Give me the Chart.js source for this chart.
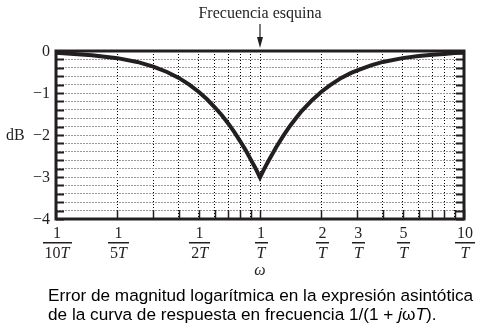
<!DOCTYPE html>
<html>
<head>
<meta charset="utf-8">
<script src="https://cdn.jsdelivr.net/npm/chart.js@4"></script>
<style>
  html, body { margin: 0; padding: 0; background: #fff; }
  #wrap { width: 486px; height: 330px; }
</style>
</head>
<body>
<div id="wrap"><canvas id="errChart" width="486" height="330"></canvas></div>
<script>
// omega * T and the error in dB
const omegaT = [0.1, 0.15, 0.2, 0.25, 0.3, 0.35, 0.4, 0.45, 0.5, 0.55, 0.6, 0.65, 0.7, 0.75, 0.8, 0.85, 0.9, 0.95, 1,
                1.05, 1.1, 1.2, 1.3, 1.4, 1.5, 1.6, 1.8, 2, 2.2, 2.5, 2.8, 3, 3.5, 4, 5, 6, 7, 8, 9, 10];
const errorDb = [-0.04, -0.10, -0.17, -0.26, -0.37, -0.50, -0.64, -0.80, -0.97, -1.15, -1.34, -1.53, -1.73, -1.94, -2.15, -2.36, -2.58, -2.79, -3.01,
                 -2.80, -2.62, -2.29, -2.02, -1.79, -1.60, -1.43, -1.17, -0.97, -0.82, -0.64, -0.52, -0.46, -0.34, -0.26, -0.17, -0.12, -0.09, -0.07, -0.05, -0.04];

// x axis labels (fractions) and grid
const xTickValues = [0.1, 0.2, 0.5, 1, 2, 3, 5, 10];
const xTickNum = ['1', '1', '1', '1', '2', '3', '5', '10'];
const xTickDen = ['10', '5', '2', '', '', '', '', ''];   // followed by an italic T
const xGrid = [0.1, 0.2, 0.3, 0.4, 0.5, 0.6, 0.7, 0.8, 0.9, 1, 2, 3, 4, 5, 6, 7, 8, 9, 10];
const yTickValues = [0, -1, -2, -3, -4];
const yGrid = [0, -0.2, -0.4, -0.6, -0.8, -1, -1.2, -1.4, -1.6, -1.8, -2, -2.2, -2.4, -2.6, -2.8, -3, -3.2, -3.4, -3.6, -3.8, -4];

const serif = '"Liberation Serif", "DejaVu Serif", serif';
const sans = '"Liberation Sans", Arial, sans-serif';
const ink = '#231f20';

const decorPlugin = {
    id: 'decor',
    afterDatasetsDraw(chart) {
        const ctx = chart.ctx;
        const a = chart.chartArea;
        const xs = chart.scales.x, ys = chart.scales.y;
        ctx.save();
        // inner tick marks
        ctx.strokeStyle = ink;
        ctx.lineWidth = 2;
        yGrid.forEach(v => {
            const py = Math.round(ys.getPixelForValue(v)) + 0.5;
            ctx.beginPath();
            ctx.moveTo(a.left, py); ctx.lineTo(a.left + 8, py);
            ctx.moveTo(a.right, py); ctx.lineTo(a.right - 8, py);
            ctx.stroke();
        });
        ctx.lineWidth = 1.5;
        xGrid.forEach(v => {
            const px = Math.round(xs.getPixelForValue(v)) + 0.5;
            ctx.beginPath();
            ctx.moveTo(px, a.bottom); ctx.lineTo(px, a.bottom - 9);
            ctx.stroke();
        });
        // frame
        ctx.lineWidth = 3;
        ctx.strokeRect(a.left, a.top, a.right - a.left, a.bottom - a.top);
        ctx.restore();
    },
    afterDraw(chart) {
        const ctx = chart.ctx;
        const xs = chart.scales.x, ys = chart.scales.y;
        const fs = '16px ';
        ctx.save();
        ctx.fillStyle = ink;
        ctx.strokeStyle = ink;

        // y tick labels
        ctx.font = fs + serif;
        ctx.textAlign = 'right';
        ctx.textBaseline = 'middle';
        yTickValues.forEach(v => {
            const txt = v === 0 ? '0' : '\u2212' + Math.abs(v);
            ctx.fillText(txt, 50, ys.getPixelForValue(v) + 1);
        });
        ctx.textAlign = 'left';
        ctx.fillText('dB', 6, ys.getPixelForValue(-2) + 1);

        // x fraction labels
        xTickValues.forEach((v, i) => {
            const cx = xs.getPixelForValue(v) + 1;
            ctx.font = fs + serif;
            const numW = ctx.measureText(xTickNum[i]).width;
            const digW = ctx.measureText(xTickDen[i]).width;
            ctx.font = 'italic ' + fs + serif;
            const tW = ctx.measureText('T').width;
            const denW = digW + tW;
            const barW = Math.max(numW, denW) + 4;
            ctx.font = fs + serif;
            ctx.textAlign = 'center';
            ctx.textBaseline = 'alphabetic';
            ctx.fillText(xTickNum[i], cx, 238);
            ctx.fillRect(Math.round(cx - barW / 2), 242, Math.round(barW), 1.5);
            ctx.textAlign = 'left';
            const x0 = cx - denW / 2;
            ctx.fillText(xTickDen[i], x0, 258);
            ctx.font = 'italic ' + fs + serif;
            ctx.fillText('T', x0 + digW, 258);
        });
        const x1 = xs.getPixelForValue(1);
        ctx.font = 'italic ' + fs + serif;
        ctx.textAlign = 'center';
        ctx.fillText('\u03c9', x1, 275);

        // title and arrow
        ctx.font = fs + serif;
        ctx.fillText('Frecuencia esquina', x1, 18);
        ctx.lineWidth = 1.2;
        ctx.beginPath();
        ctx.moveTo(x1, 24); ctx.lineTo(x1, 40);
        ctx.stroke();
        ctx.beginPath();
        ctx.moveTo(x1 - 3, 37); ctx.lineTo(x1 + 3, 37); ctx.lineTo(x1, 48);
        ctx.closePath();
        ctx.fill();

        // caption
        ctx.fillStyle = '#000';
        ctx.textAlign = 'left';
        const cs = '17.2px ';
        ctx.font = cs + sans;
        ctx.fillText('Error de magnitud logarítmica en la expresión asintótica', 48, 301);
        let x = 48;
        const parts = [
            ['de la curva de respuesta en frecuencia 1/(1 + ', ''],
            ['j', 'italic '],
            ['\u03c9', ''],
            ['T', 'italic '],
            [').', '']
        ];
        parts.forEach(([t, st]) => {
            ctx.font = st + cs + sans;
            ctx.fillText(t, x, 320);
            x += ctx.measureText(t).width;
        });
        ctx.restore();
    }
};

const ctx = document.getElementById('errChart').getContext('2d');
const errChart = new Chart(ctx, {
    type: 'line',
    data: {
        datasets: [{
            data: omegaT.map((w, i) => ({ x: w, y: errorDb[i] })),
            borderColor: ink,
            borderWidth: 4,
            pointRadius: 0,
            tension: 0,
            fill: false
        }]
    },
    options: {
        responsive: false,
        animation: false,
        events: [],
        layout: { padding: { left: 56, top: 51, right: 22, bottom: 111 } },
        plugins: { legend: { display: false }, tooltip: { enabled: false } },
        scales: {
            x: {
                type: 'logarithmic',
                min: 0.1,
                max: 10,
                afterBuildTicks: scale => { scale.ticks = xGrid.map(v => ({ value: v })); },
                ticks: { display: false },
                grid: { color: '#000', lineWidth: 1, drawTicks: false },
                border: { display: false, dash: [1, 2] }
            },
            y: {
                type: 'linear',
                min: -4,
                max: 0,
                afterBuildTicks: scale => { scale.ticks = yGrid.map(v => ({ value: v })); },
                ticks: { display: false },
                grid: { color: '#9a9a9a', lineWidth: 1, drawTicks: false },
                border: { display: false, dash: [2, 1] }
            }
        }
    },
    plugins: [decorPlugin]
});
</script>
</body>
</html>
